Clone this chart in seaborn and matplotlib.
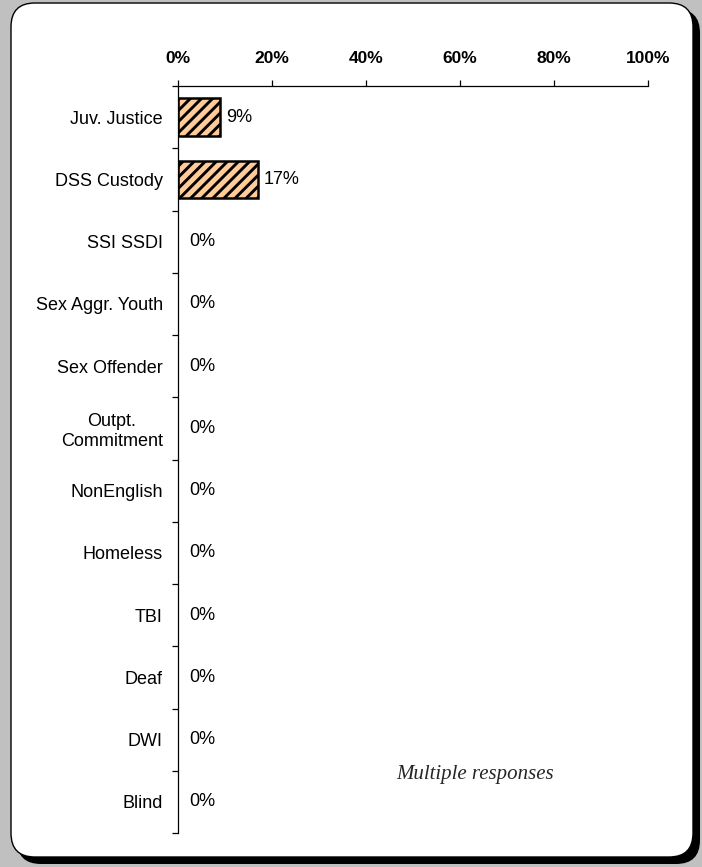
import matplotlib
matplotlib.use("Agg")
import matplotlib.pyplot as plt
from matplotlib.patches import FancyBboxPatch
import seaborn as sns
import pandas as pd

categories = ["Juv. Justice", "DSS Custody", "SSI SSDI", "Sex Aggr. Youth",
              "Sex Offender", "Outpt.\nCommitment", "NonEnglish", "Homeless",
              "TBI", "Deaf", "DWI", "Blind"]
values = [9, 17, 0, 0, 0, 0, 0, 0, 0, 0, 0, 0]
x_ticks = [0, 20, 40, 60, 80, 100]
x_labels = ["0%", "20%", "40%", "60%", "80%", "100%"]

df = pd.DataFrame({"category": categories, "value": values})

sns.set_theme(style="white")
plt.rcParams["font.family"] = ["Liberation Sans", "DejaVu Sans"]
plt.rcParams["hatch.linewidth"] = 2.1
plt.rcParams["hatch.color"] = "#333333"

W, H = 702, 867
fig = plt.figure(figsize=(W / 100, H / 100), dpi=100)
fig.patch.set_facecolor("#C0C0C0")

# rounded white panel with a dark drop shadow
def fbox(x0, y0, x1, y1, **kw):
    return FancyBboxPatch((x0 / W, 1 - y1 / H), (x1 - x0) / W, (y1 - y0) / H,
                          boxstyle="round,pad=0,rounding_size=0.034",
                          transform=fig.transFigure, mutation_aspect=W / H, **kw)

fig.patches.append(fbox(17, 9, 700, 864, facecolor="black", edgecolor="none", zorder=0))
fig.patches.append(fbox(11, 3, 693, 857, facecolor="white", edgecolor="black",
                        linewidth=1.0, zorder=1))

ax = fig.add_axes([178 / W, 1 - 833 / H, (648 - 178) / W, (833 - 86) / H])
ax.set_facecolor("none")
ax.set_zorder(2)

sns.barplot(data=df, x="value", y="category", orient="h", ax=ax,
            color="#FFCC99", width=0.6, edgecolor="black", linewidth=1.8,
            saturation=1)
for p in ax.patches:
    p.set_hatch("///")
    if p.get_width() == 0:
        p.set_linewidth(0)

ax.set_xlim(0, 100)
ax.set_ylim(len(categories) - 0.5, -0.5)

# value labels
for i, v in enumerate(values):
    off = 6 if v > 0 else 11
    ax.annotate(f"{v}%", xy=(v, i), xytext=(off * 0.72, 0), textcoords="offset points",
                ha="left", va="center", fontsize=13, color="black")

# x axis on top
ax.xaxis.tick_top()
ax.set_xticks(x_ticks)
ax.set_xticklabels(x_labels, fontsize=12.5, fontweight="bold")
ax.tick_params(axis="x", direction="out", length=4.5, width=0.9, color="black",
               pad=10, labelcolor="black")

# y ticks at category boundaries, labels between them
ax.set_yticks([i - 0.5 for i in range(len(categories) + 1)])
ax.set_yticklabels([])
ax.set_yticks(range(len(categories)), minor=True)
ax.set_yticklabels(categories, minor=True, fontsize=13)
for lbl in ax.get_yticklabels(minor=True):
    lbl.set_multialignment("center")
ax.tick_params(axis="y", which="major", direction="out", length=4.5, width=0.9,
               color="black", left=True)
ax.tick_params(axis="y", which="minor", length=0, pad=11, labelcolor="black")

for s in ["right", "bottom"]:
    ax.spines[s].set_visible(False)
for s in ["top", "left"]:
    ax.spines[s].set_visible(True)
    ax.spines[s].set_color("black")
    ax.spines[s].set_linewidth(0.9)

ax.set_xlabel("")
ax.set_ylabel("")

fig.text(475 / W, 1 - 775 / H, "Multiple responses", ha="center", va="center",
         fontsize=15, style="italic", family=["Liberation Serif", "DejaVu Serif"],
         zorder=3)

fig.savefig("out.png", dpi=100, facecolor=fig.get_facecolor())
